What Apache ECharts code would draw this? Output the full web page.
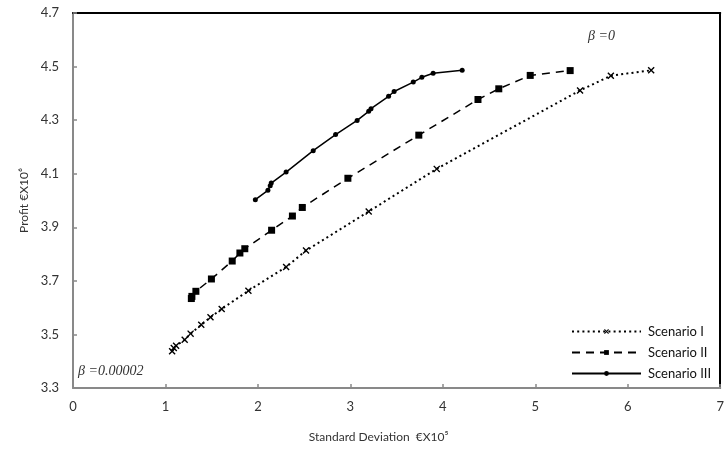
<!DOCTYPE html>
<html>
<head>
<meta charset="utf-8">
<script src="https://cdn.jsdelivr.net/npm/echarts@6/dist/echarts.min.js"></script>
<style>html,body{margin:0;padding:0;background:#fff}#c{width:727px;height:453px}</style>
</head>
<body>
<div id="c"></div>
<script>
var seriesNames = ['Scenario I', 'Scenario II', 'Scenario III'];
var scenario1 = [[1.072,3.437],[1.090,3.449],[1.115,3.458],[1.208,3.480],[1.272,3.503],[1.387,3.536],[1.487,3.564],[1.608,3.595],[1.897,3.663],[2.305,3.752],[2.520,3.813],[3.198,3.959],[3.934,4.118],[5.484,4.411],[5.817,4.466],[6.253,4.486]];
var scenario2 = [[1.280,3.634],[1.286,3.642],[1.329,3.661],[1.497,3.707],[1.722,3.774],[1.805,3.804],[1.858,3.820],[2.148,3.889],[2.373,3.942],[2.480,3.974],[2.973,4.083],[3.740,4.244],[4.380,4.377],[4.605,4.417],[4.945,4.467],[5.377,4.485]];
var scenario3 = [[1.972,4.003],[2.108,4.038],[2.133,4.055],[2.144,4.065],[2.305,4.106],[2.598,4.186],[2.840,4.246],[3.073,4.299],[3.198,4.333],[3.223,4.343],[3.413,4.389],[3.473,4.407],[3.680,4.442],[3.773,4.460],[3.895,4.475],[4.209,4.486]];
var xTicks = [0,1,2,3,4,5,6,7];
var yTicks = [3.3,3.5,3.7,3.9,4.1,4.3,4.5,4.7];
var xTitle = 'Standard Deviation  €X10⁵';
var yTitle = 'Profit €X10⁶';
var annotTop = 'β =0';
var annotBottom = 'β =0.00002';

var FONT = 'Lato';
var gray = '#898989';
var crossPath = 'path://M0,1.4L1.4,0L5,3.6L8.6,0L10,1.4L6.4,5L10,8.6L8.6,10L5,6.4L1.4,10L0,8.6L3.6,5Z';

var chart = echarts.init(document.getElementById('c'), null, {renderer: 'canvas'});
chart.setOption({
  animation: false,
  backgroundColor: '#fff',
  textStyle: {fontFamily: FONT},
  grid: {left: 73, right: 2, top: 13, bottom: 65},
  xAxis: [{
    type: 'value', min: xTicks[0], max: xTicks[xTicks.length-1], interval: 1,
    axisLine: {show: true, lineStyle: {color: gray, width: 2}},
    axisTick: {show: true, inside: true, length: 4, lineStyle: {color: gray, width: 1.5}},
    axisLabel: {color: '#333', fontSize: 13, margin: 12, fontFamily: FONT},
    splitLine: {show: false},
    name: xTitle, nameLocation: 'middle', nameGap: 43,
    nameTextStyle: {color: '#333', fontSize: 12, fontFamily: FONT, padding: [0, 36, 0, 0]}
  }, {
    type: 'value', position: 'top', min: 0, max: 7,
    axisLine: {show: true, onZero: false, lineStyle: {color: '#000', width: 2}},
    axisTick: {show: false}, axisLabel: {show: false}, splitLine: {show: false}
  }],
  yAxis: [{
    type: 'value', min: yTicks[0], max: yTicks[yTicks.length-1], interval: 0.2,
    axisLine: {show: true, lineStyle: {color: gray, width: 2}},
    axisTick: {show: true, inside: true, length: 4, lineStyle: {color: gray, width: 1.5}},
    axisLabel: {color: '#333', fontSize: 13, margin: 14, fontFamily: FONT,
      formatter: function(v){ return v.toFixed(1); }},
    splitLine: {show: false},
    name: yTitle, nameLocation: 'middle', nameRotate: 90, nameGap: 40,
    nameTextStyle: {color: '#333', fontSize: 12, fontFamily: FONT}
  }, {
    type: 'value', position: 'right', min: 3.3, max: 4.7,
    axisLine: {show: true, onZero: false, lineStyle: {color: '#000', width: 2}},
    axisTick: {show: false}, axisLabel: {show: false}, splitLine: {show: false}
  }],
  legend: {
    orient: 'vertical', left: 566, top: 320, itemWidth: 69, itemHeight: 6, itemGap: 8,
    data: seriesNames,
    textStyle: {color: '#111', fontSize: 13, fontFamily: FONT, padding: [0,0,0,2]}
  },
  series: [{
    name: seriesNames[0], type: 'line', data: scenario1,
    symbol: crossPath, symbolSize: 7, showAllSymbol: true,
    lineStyle: {color: '#000', width: 2, type: [2, 3.2]},
    itemStyle: {color: '#000'}
  }, {
    name: seriesNames[1], type: 'line', data: scenario2,
    symbol: 'rect', symbolSize: 7, showAllSymbol: true,
    lineStyle: {color: '#000', width: 1.5, type: [8, 6]},
    itemStyle: {color: '#000'}
  }, {
    name: seriesNames[2], type: 'line', data: scenario3,
    symbol: 'circle', symbolSize: 5, showAllSymbol: true,
    lineStyle: {color: '#000', width: 1.5, type: 'solid'},
    itemStyle: {color: '#000'}
  }],
  graphic: [{
    type: 'text', left: 588, top: 29,
    style: {text: annotTop, font: 'italic 14px "Liberation Serif"', fill: '#333'}
  }, {
    type: 'text', left: 78, top: 364,
    style: {text: annotBottom, font: 'italic 14px "Liberation Serif"', fill: '#333'}
  }]
});
</script>
</body>
</html>
